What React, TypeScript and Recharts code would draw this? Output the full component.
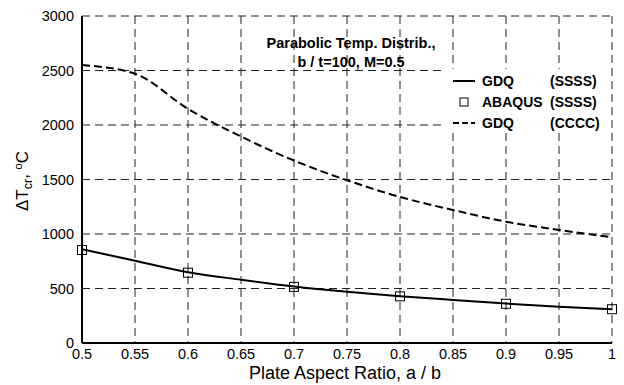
import React from 'react';
import { CartesianGrid, Customized, Line, LineChart, XAxis, YAxis } from 'recharts';

const ratios = [0.5, 0.55, 0.6, 0.65, 0.7, 0.75, 0.8, 0.85, 0.9, 0.95, 1];
const gdqSSSS = [860, 755, 650, 580, 518, 470, 430, 395, 362, 333, 310];
const gdqCCCC = [2550, 2470, 2148, 1894, 1674, 1493, 1340, 1220, 1113, 1037, 970];
const abaqusRatios = [0.5, 0.6, 0.7, 0.8, 0.9, 1];
const abaqusSSSS = [853, 645, 515, 428, 360, 310];

const xTicks = [0.5, 0.55, 0.6, 0.65, 0.7, 0.75, 0.8, 0.85, 0.9, 0.95, 1];
const yTicks = [0, 500, 1000, 1500, 2000, 2500, 3000];

const data = ratios.map((r, i) => {
  const k = abaqusRatios.indexOf(r);
  return { r, sss: gdqSSSS[i], ccc: gdqCCCC[i], abq: k >= 0 ? abaqusSSSS[k] : null };
});

const FONT = '"Liberation Sans", Arial, sans-serif';

const Square = (props: any) => {
  const { cx, cy } = props;
  if (cx == null || cy == null || props.value == null) return null;
  return <rect x={cx - 4.5} y={cy - 4.5} width={9} height={9} fill="none" stroke="#000" strokeWidth={1} />;
};

const LegendBox = () => {
  const row = { display: 'flex', alignItems: 'center', height: 21 } as const;
  const name = { width: 68, fontWeight: 700 } as const;
  return (
    <div style={{ position: 'absolute', left: 445, top: 69, background: '#fff', width: 166, height: 60, padding: '1px 0 0 4px', boxSizing: 'border-box', fontFamily: FONT, fontSize: 14, color: '#000' }}>
      <div style={row}>
        <svg width={33} height={10}><line x1={4} y1={5} x2={26} y2={5} stroke="#000" strokeWidth={2} /></svg>
        <span style={name}>GDQ</span><b>(SSSS)</b>
      </div>
      <div style={row}>
        <svg width={33} height={10}><rect x={11} y={1} width={8} height={8} fill="none" stroke="#000" /></svg>
        <span style={name}>ABAQUS</span><b>(SSSS)</b>
      </div>
      <div style={row}>
        <svg width={33} height={10}><line x1={4} y1={5} x2={26} y2={5} stroke="#000" strokeWidth={2} strokeDasharray="6 3" /></svg>
        <span style={name}>GDQ</span><b>(CCCC)</b>
      </div>
    </div>
  );
};

const Annotations = () => (
  <g fontFamily={FONT} fill="#000">
    <text x={351} y={48} textAnchor="middle" fontSize={14.5} fontWeight={700}>Parabolic Temp. Distrib.,</text>
    <text x={351} y={67} textAnchor="middle" fontSize={14.5} fontWeight={700}>b / t=100, M=0.5</text>
    <text x={345} y={379} textAnchor="middle" fontSize={18}>Plate Aspect Ratio, a / b</text>
    <text transform="translate(28,181) rotate(-90)" textAnchor="middle" fontSize={17}>
      ΔT<tspan fontSize={12.5} dy={4}>cr</tspan><tspan dy={-4}>, </tspan><tspan fontSize={11} dy={-6}>o</tspan><tspan dy={6}>C</tspan>
    </text>
  </g>
);

export default function App() {
  return (
    <div style={{ position: 'absolute', left: 0, top: 0, width: 624, height: 385, background: '#fff' }}>
      <LineChart width={624} height={385} data={data} margin={{ top: 16, right: 12, bottom: 0, left: 0 }}>
        <CartesianGrid stroke="#222" strokeWidth={1} strokeDasharray="8 5" horizontalValues={yTicks} verticalValues={xTicks} />
        <XAxis
          dataKey="r"
          type="number"
          domain={[0.5, 1]}
          ticks={xTicks}
          height={42}
          tickLine={false}
          axisLine={{ stroke: '#000', strokeWidth: 2 }}
          tick={{ fill: '#000', fontSize: 14.5, fontFamily: FONT }}
          tickMargin={0}
          tickFormatter={(v: number) => String(v)}
          interval={0}
        />
        <XAxis
          xAxisId="top"
          dataKey="r"
          type="number"
          orientation="top"
          mirror
          height={0}
          domain={[0.5, 1]}
          ticks={xTicks}
          tickSize={5}
          tickLine={{ stroke: '#000' }}
          axisLine={{ stroke: '#000' }}
          tickFormatter={() => ''}
          interval={0}
        />
        <YAxis
          type="number"
          domain={[0, 3000]}
          ticks={yTicks}
          width={82}
          tickLine={false}
          axisLine={{ stroke: '#000', strokeWidth: 2 }}
          tick={{ fill: '#000', fontSize: 14.5, fontFamily: FONT }}
          tickMargin={2}
          interval={0}
        />
        <YAxis
          yAxisId="right"
          type="number"
          orientation="right"
          mirror
          width={0}
          domain={[0, 3000]}
          ticks={yTicks}
          tickSize={5}
          tickLine={{ stroke: '#000' }}
          axisLine={{ stroke: '#000' }}
          tickFormatter={() => ''}
          interval={0}
        />
        <Line type="monotone" dataKey="sss" stroke="#000" strokeWidth={2} dot={false} isAnimationActive={false} />
        <Line type="monotone" dataKey="abq" stroke="none" dot={<Square />} activeDot={false} isAnimationActive={false} connectNulls />
        <Line type="monotone" dataKey="ccc" stroke="#000" strokeWidth={2} strokeDasharray="8 4" dot={false} isAnimationActive={false} />
        <Customized component={Annotations} />
      </LineChart>
      <LegendBox />
    </div>
  );
}
